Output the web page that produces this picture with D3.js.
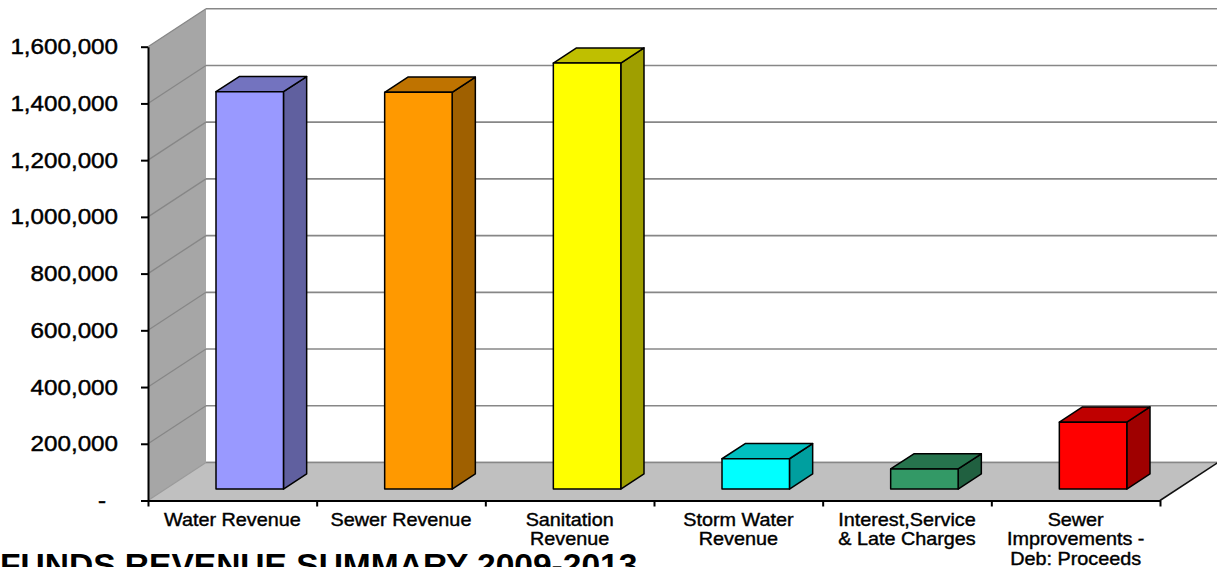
<!DOCTYPE html>
<html>
<head>
<meta charset="utf-8">
<script src="https://cdn.jsdelivr.net/npm/d3@7"></script>
<style>
  html, body { margin: 0; padding: 0; background: #ffffff; }
  svg { display: block; font-family: "Liberation Sans", Arial, sans-serif; }
</style>
</head>
<body>
<script>
// Revenue by fund category, 2009-2013
const categories = [
  "Water Revenue",
  "Sewer Revenue",
  "Sanitation Revenue",
  "Storm Water Revenue",
  "Interest,Service & Late Charges",
  "Sewer Improvements - Deb: Proceeds"
];
const categoryLines = [
  ["Water Revenue"],
  ["Sewer Revenue"],
  ["Sanitation", "Revenue"],
  ["Storm Water", "Revenue"],
  ["Interest,Service", "& Late Charges"],
  ["Sewer", "Improvements -", "Deb: Proceeds"]
];
const revenue = [1401000, 1399000, 1502000, 107000, 71000, 236000];
const tickValues = [0, 200000, 400000, 600000, 800000, 1000000, 1200000, 1400000, 1600000];
const tickLabels = ["-", "200,000", "400,000", "600,000", "800,000", "1,000,000", "1,200,000", "1,400,000", "1,600,000"];
const barColors = ["#9999FF", "#FF9900", "#FFFF00", "#00FFFF", "#339966", "#FF0000"];
const titleText = "FUNDS REVENUE SUMMARY 2009-2013";

const W = 1217, H = 567;
const DX = 58, DY = -38;          // offset from the front plane to the back wall
const Z0 = 0.3, DZ = 0.4;         // bar depth: starts at 30% of the floor, 40% deep
const STRETCH = "scale(1.1,1)";

const svg = d3.select("body").append("svg")
  .attr("width", W).attr("height", H);

const y = d3.scaleLinear().domain([0, 1600000]).range([500.5, 46.7]);
const x = d3.scaleBand().domain(categories).range([148, 1160]);
const edge = d3.scaleLinear().domain([0, categories.length]).range([148, 1160]);
const bw = x.bandwidth();
const barW = bw * 0.4;

const shade = (c, k) => {
  const r = d3.rgb(c);
  return d3.rgb(r.r * k, r.g * k, r.b * k).formatHex();
};

// back wall gridlines
svg.append("g").selectAll("line")
  .data(tickValues)
  .join("line")
  .attr("x1", edge(0) + DX).attr("x2", edge(categories.length) + DX)
  .attr("y1", d => y(d) + DY).attr("y2", d => y(d) + DY)
  .attr("stroke", "#878787").attr("stroke-width", 1.6);

// side wall
const side = svg.append("g");
side.append("polygon")
  .attr("points", [
    [edge(0), y(1600000)], [edge(0) + DX, y(1600000) + DY],
    [edge(0) + DX, y(0) + DY], [edge(0), y(0)]
  ].map(p => p.join(",")).join(" "))
  .attr("fill", "#A6A6A6");
side.selectAll("line")
  .data(tickValues.slice(1))
  .join("line")
  .attr("x1", edge(0)).attr("x2", edge(0) + DX)
  .attr("y1", d => y(d)).attr("y2", d => y(d) + DY)
  .attr("stroke", "#878787").attr("stroke-width", 1.3);

// floor
svg.append("polygon")
  .attr("points", [
    [edge(0), y(0)], [edge(categories.length), y(0)],
    [edge(categories.length) + DX, y(0) + DY], [edge(0) + DX, y(0) + DY]
  ].map(p => p.join(",")).join(" "))
  .attr("fill", "#C0C0C0");
svg.append("line")
  .attr("x1", edge(0) + DX).attr("x2", edge(categories.length) + DX)
  .attr("y1", y(0) + DY).attr("y2", y(0) + DY)
  .attr("stroke", "#878787").attr("stroke-width", 1.6);
svg.append("line")
  .attr("x1", edge(0)).attr("y1", y(0))
  .attr("x2", edge(0) + DX).attr("y2", y(0) + DY)
  .attr("stroke", "#9A9A9A").attr("stroke-width", 1.2);
svg.append("line")
  .attr("x1", edge(categories.length)).attr("y1", y(0))
  .attr("x2", edge(categories.length) + DX).attr("y2", y(0) + DY)
  .attr("stroke", "#111").attr("stroke-width", 1.5);

// bars
const bars = svg.append("g")
  .selectAll("g")
  .data(categories.map((c, i) => ({ c, v: revenue[i], color: barColors[i] })))
  .join("g")
  .attr("stroke", "#000").attr("stroke-width", 1.5).attr("stroke-linejoin", "round");

bars.each(function (d) {
  const g = d3.select(this);
  const x0 = x(d.c) + (bw - barW) / 2 + Z0 * DX;
  const x1 = x0 + barW;
  const yTop = y(d.v) + Z0 * DY;
  const yBot = y(0) + Z0 * DY;
  const ox = DZ * DX, oy = DZ * DY;
  g.append("polygon")
    .attr("points", [[x1, yTop], [x1 + ox, yTop + oy], [x1 + ox, yBot + oy], [x1, yBot]]
      .map(p => p.join(",")).join(" "))
    .attr("fill", shade(d.color, 0.625));
  g.append("polygon")
    .attr("points", [[x0, yTop], [x1, yTop], [x1 + ox, yTop + oy], [x0 + ox, yTop + oy]]
      .map(p => p.join(",")).join(" "))
    .attr("fill", shade(d.color, 0.75));
  g.append("rect")
    .attr("x", x0).attr("y", yTop)
    .attr("width", barW).attr("height", yBot - yTop)
    .attr("fill", d.color);
});

// value axis
const yAxis = svg.append("g")
  .attr("transform", `translate(${edge(0)},0)`)
  .call(d3.axisLeft(y)
    .tickValues(tickValues)
    .tickFormat((d, i) => tickLabels[i])
    .tickSize(7).tickSizeOuter(0).tickPadding(23));
yAxis.select(".domain").attr("stroke", "#000").attr("stroke-width", 2);
yAxis.selectAll(".tick line").attr("stroke", "#000").attr("stroke-width", 2);
yAxis.selectAll(".tick text")
  .attr("x", 0)
  .attr("transform", d => `translate(${d === 0 ? -42 : -30},0) ${STRETCH}`)
  .attr("fill", "#000")
  .attr("stroke", "#000").attr("stroke-width", 0.45)
  .style("font-size", "22px")
  .style("font-family", "'Liberation Sans', Arial, sans-serif");

// category axis (ticks at the band edges)
const xAxis = svg.append("g")
  .attr("transform", `translate(0,${y(0)})`)
  .call(d3.axisBottom(edge)
    .tickValues(d3.range(0, categories.length + 1))
    .tickFormat("")
    .tickSize(6).tickSizeOuter(0));
xAxis.select(".domain").attr("stroke", "#000").attr("stroke-width", 2);
xAxis.selectAll(".tick line").attr("stroke", "#000").attr("stroke-width", 2);

// category labels
const labels = svg.append("g")
  .selectAll("text")
  .data(categories)
  .join("text")
  .attr("transform", d => `translate(${x(d) + bw / 2},526) ${STRETCH}`)
  .attr("text-anchor", "middle")
  .attr("fill", "#000")
  .attr("stroke", "#000").attr("stroke-width", 0.4)
  .style("font-size", "18px");
labels.each(function (d, i) {
  d3.select(this).selectAll("tspan")
    .data(categoryLines[i])
    .join("tspan")
    .attr("x", 0)
    .attr("dy", (t, j) => j === 0 ? 0 : 19.3)
    .text(t => t);
});

// title
svg.append("text")
  .attr("transform", `translate(0,576) ${STRETCH}`)
  .attr("fill", "#000")
  .style("font-size", "30.5px")
  .style("font-weight", "bold")
  .text(titleText);
</script>
</body>
</html>
